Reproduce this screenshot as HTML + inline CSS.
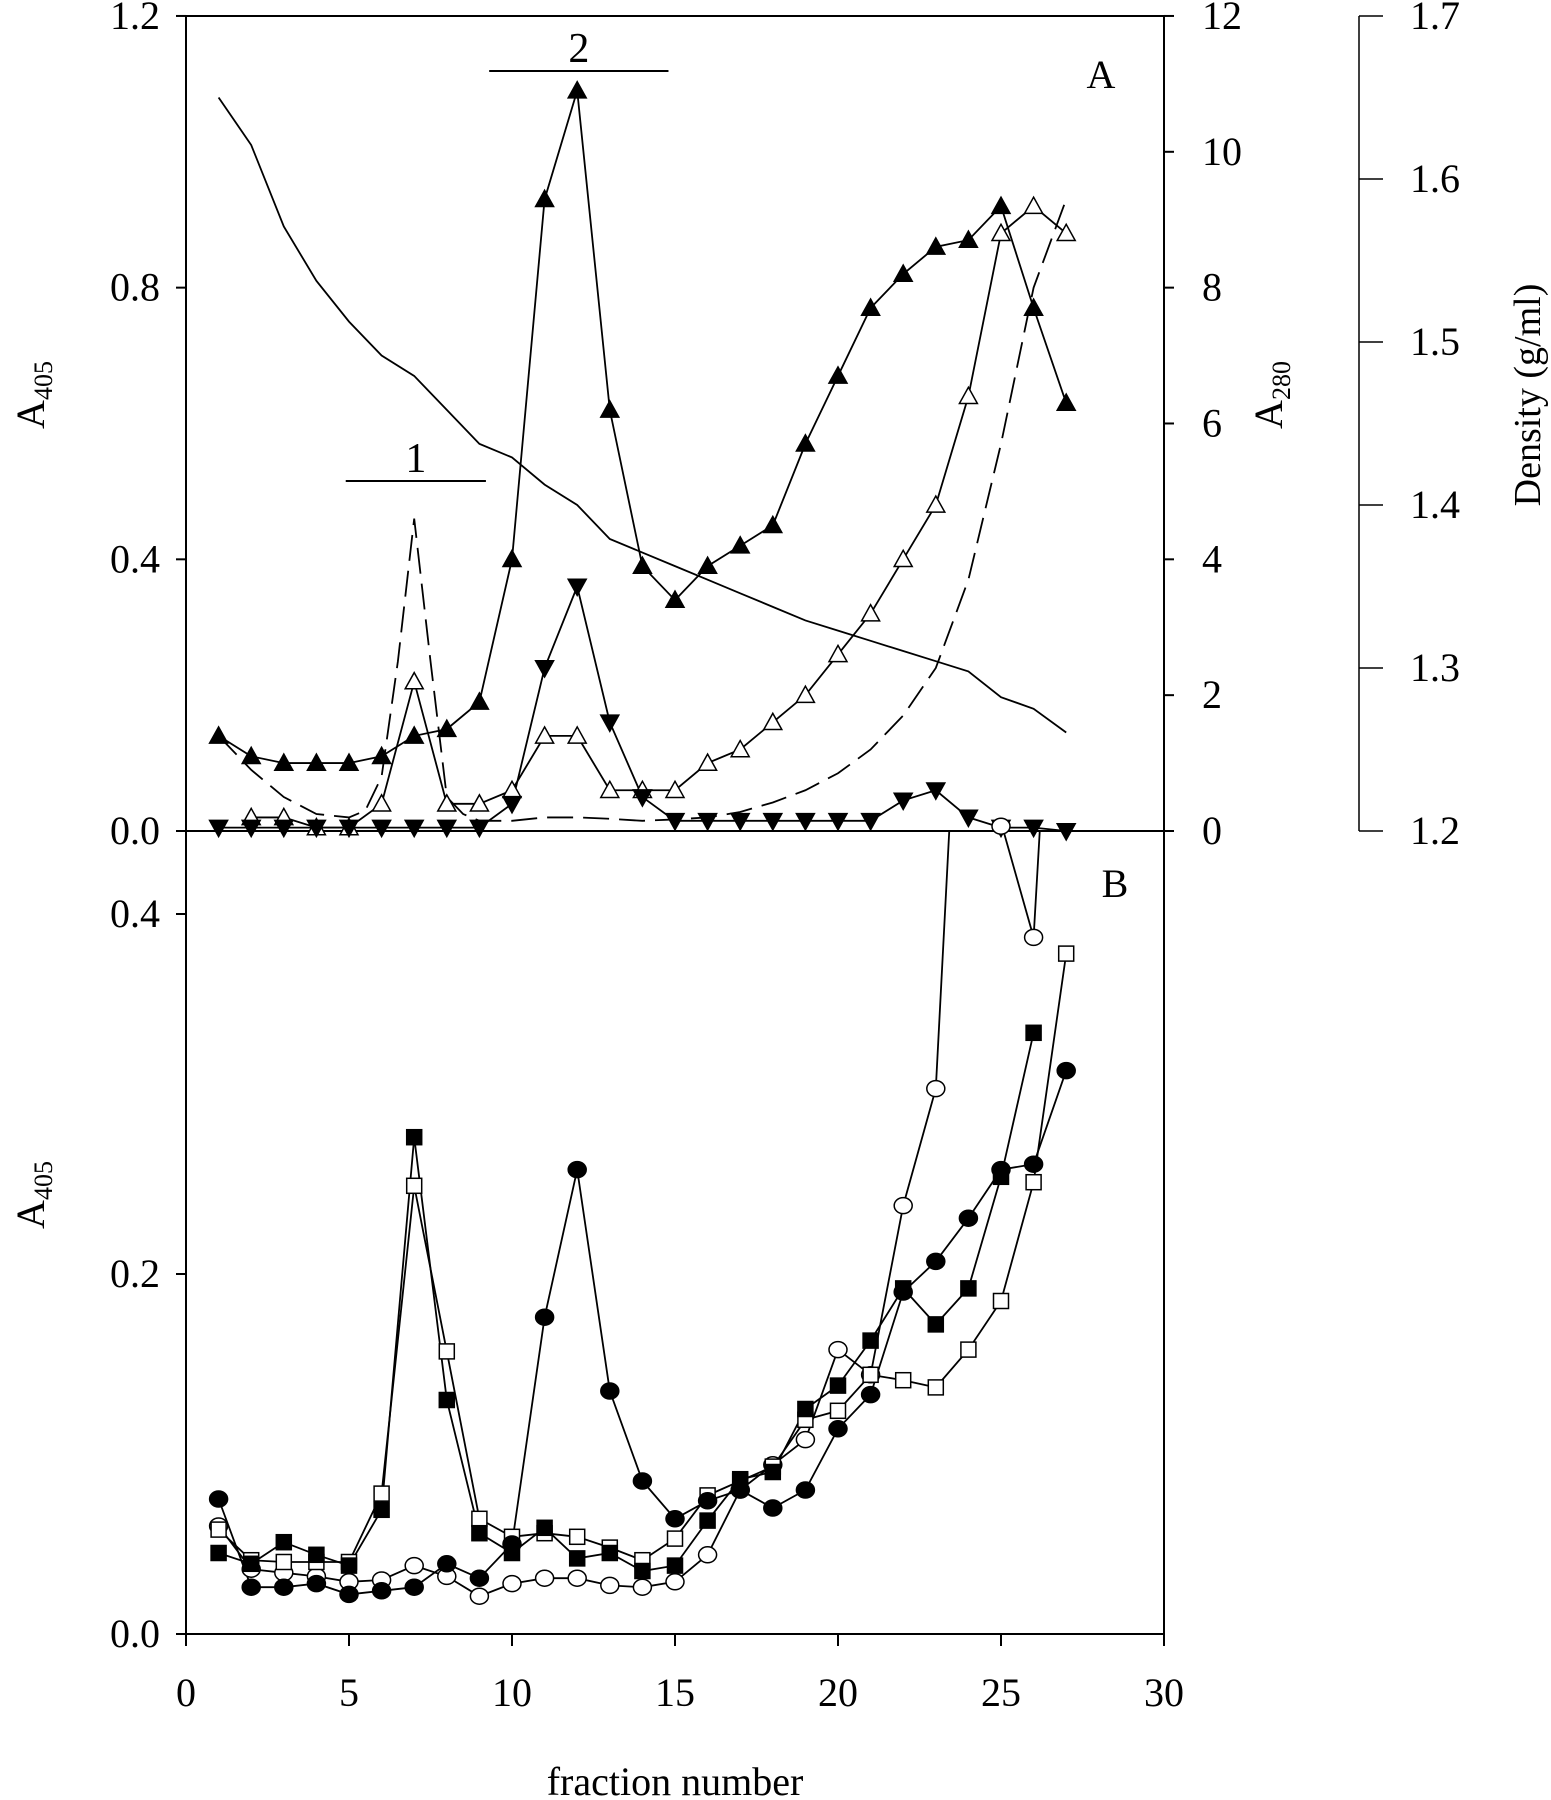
<!DOCTYPE html>
<html><head><meta charset="utf-8"><style>
html,body{margin:0;padding:0;background:#fff}
svg{display:block}
text{font-family:"Liberation Serif",serif;fill:#000}
</style></head><body>
<svg id="s" width="1551" height="1800" viewBox="0 0 1551 1800" xmlns="http://www.w3.org/2000/svg">
<defs><clipPath id="cb"><rect x="186" y="831" width="978" height="803"/></clipPath>
<clipPath id="ca"><rect x="186" y="16" width="978" height="816"/></clipPath></defs>
<g id="g" stroke="#000" fill="none" stroke-width="2"></g>
</svg>
<script>
const NS="http://www.w3.org/2000/svg";
const g=document.getElementById('g');
function el(t,a,p){const e=document.createElementNS(NS,t);for(const k in a)e.setAttribute(k,a[k]);(p||g).appendChild(e);return e;}
function txt(x,y,s,opt){const e=el('text',Object.assign({x:x,y:y,'font-size':40,stroke:'none',fill:'#000'},opt||{}));e.textContent=s;return e;}
const X=f=>186+32.6*f, YA=v=>831-679.2*v, YB=v=>1634-1800*v;
el('line',{x1:186,y1:16,x2:1164,y2:16});
el('line',{x1:186,y1:16,x2:186,y2:1634});
el('line',{x1:1164,y1:16,x2:1164,y2:1634});
el('line',{x1:186,y1:1634,x2:1164,y2:1634});
el('line',{x1:186,y1:831,x2:1164,y2:831});
[0,0.4,0.8,1.2].forEach(v=>{el('line',{x1:176,y1:YA(v),x2:186,y2:YA(v)});txt(160,YA(v)+13,v.toFixed(1),{'text-anchor':'end'});});
[0,0.2,0.4].forEach(v=>{el('line',{x1:176,y1:YB(v),x2:186,y2:YB(v)});txt(160,YB(v)+13,v.toFixed(1),{'text-anchor':'end'});});
[0,5,10,15,20,25,30].forEach(f=>{el('line',{x1:X(f),y1:1634,x2:X(f),y2:1646});txt(X(f),1706,String(f),{'text-anchor':'middle'});});
[0,2,4,6,8,10,12].forEach(v=>{const y=831-67.92*v;el('line',{x1:1164,y1:y,x2:1174,y2:y});txt(1202,y+13,String(v));});
el('line',{x1:1359,y1:16,x2:1359,y2:831,'stroke-width':1.5});
[1.2,1.3,1.4,1.5,1.6,1.7].forEach(d=>{const y=831-1630*(d-1.2);el('line',{x1:1359,y1:y,x2:1383,y2:y,'stroke-width':1.5});txt(1410,y+13,d.toFixed(1));});
function rot(x,y,parts,fs){const t=el('text',{x:0,y:0,'font-size':fs||40,stroke:'none',transform:`translate(${x},${y}) rotate(-90)`,'text-anchor':'middle'});parts.forEach(p=>{const s=el('tspan',p.a||{},t);s.textContent=p.t;});}
rot(44,395,[{t:'A'},{t:'405',a:{'font-size':26,dy:8}}]);
rot(44,1195,[{t:'A'},{t:'405',a:{'font-size':26,dy:8}}]);
rot(1282,395,[{t:'A'},{t:'280',a:{'font-size':26,dy:8}}]);
rot(1540,395,[{t:'Density (g/ml)'}],38);
txt(675,1795,'fraction number',{'text-anchor':'middle'});
txt(1101,88,'A',{'text-anchor':'middle'});
txt(1115,897,'B',{'text-anchor':'middle'});
el('line',{x1:X(4.9),y1:481,x2:X(9.2),y2:481});txt(X(7.05),472,'1',{'text-anchor':'middle','font-size':42});
el('line',{x1:X(9.3),y1:71,x2:X(14.8),y2:71});txt(X(12.05),62,'2',{'text-anchor':'middle','font-size':42});
function poly(pts,Y,opt,par){return el('polyline',Object.assign({points:pts.map(p=>X(p[0])+','+Y(p[1])).join(' '),'stroke-width':1.8},opt||{}),par);}
const r=a=>a.map((v,i)=>[i+1,v]);
const ga=el('g',{'clip-path':'url(#ca)'}), gb=el('g',{'clip-path':'url(#cb)'});
poly(r([1.08,1.01,.89,.81,.75,.70,.67,.62,.57,.55,.51,.48,.43,.41,.39,.37,.35,.33,.31,.295,.28,.265,.25,.235,.197,.18,.145]),YA,{},ga);
poly([[1,.14],[2,.09],[3,.05],[4,.025],[5,.02],[5.5,.03],[6,.08],[6.5,.25],[7,.46],[7.5,.25],[8,.05],[8.5,.025],[9,.015],[10,.015],[11,.02],[12,.02],[13,.018],[14,.015],[15,.017],[16,.02],[17,.028],[18,.042],[19,.06],[20,.085],[21,.12],[22,.17],[23,.24],[24,.37],[25,.57],[26,.8],[27,.93]],YA,{'stroke-dasharray':'26,10'},ga);
function tri(x,y,fill,down){const s=9;const pts=down?`${x-s},${y-s*0.8} ${x+s},${y-s*0.8} ${x},${y+s*1.0}`:`${x-s},${y+s*0.8} ${x+s},${y+s*0.8} ${x},${y-s*1.0}`;el('polygon',{points:pts,fill:fill,'stroke-width':1.5});}
function series(pts,Y,mk,fill,par){poly(pts,Y,{},par);pts.forEach(p=>{const x=X(p[0]),y=Y(p[1]);if(y<825&&Y===YB)return;mk(x,y,fill,par);});}
const up=(x,y,f)=>tri(x,y,f,false), dn=(x,y,f)=>tri(x,y,f,true);
const cir=(x,y,f)=>el('ellipse',{cx:x,cy:y,rx:9,ry:8,fill:f,'stroke-width':1.5});
const sq=(x,y,f)=>el('rect',{x:x-7.5,y:y-7.5,width:15,height:15,fill:f,'stroke-width':1.5});
series([[2,.02],[3,.02],[4,.005],[5,.005],[6,.04],[7,.22],[8,.04],[9,.04],[10,.06],[11,.14],[12,.14],[13,.06],[14,.06],[15,.06],[16,.10],[17,.12],[18,.16],[19,.20],[20,.26],[21,.32],[22,.40],[23,.48],[24,.64],[25,.88],[26,.92],[27,.88]],YA,up,'#fff',ga);
series(r([.005,.005,.005,.005,.005,.005,.005,.005,.005,.04,.24,.36,.16,.05,.015,.015,.015,.015,.015,.015,.015,.045,.06,.02,.005,.005,0]),YA,dn,'#000',ga);
series(r([.14,.11,.10,.10,.10,.11,.14,.15,.19,.40,.93,1.09,.62,.39,.34,.39,.42,.45,.57,.67,.77,.82,.86,.87,.92,.77,.63]),YA,up,'#000',ga);
series(r([.06,.036,.034,.032,.029,.03,.038,.032,.021,.028,.031,.031,.027,.026,.029,.044,.08,.094,.108,.158,.144,.238,.303,.65,.451,.387,.7]),YB,cir,'#fff',gb);
cir(X(25),YB(.451)+4,'#fff');
series(r([.058,.041,.04,.04,.04,.078,.249,.157,.064,.054,.056,.054,.048,.041,.053,.077,.085,.093,.119,.124,.144,.141,.137,.158,.185,.251,.378]),YB,sq,'#fff',gb);
series(r([.045,.039,.051,.044,.038,.069,.276,.13,.056,.045,.059,.042,.045,.035,.038,.063,.086,.09,.125,.138,.163,.192,.172,.192,.254,.334]),YB,sq,'#000',gb);
series(r([.075,.026,.026,.028,.022,.024,.026,.039,.031,.05,.176,.258,.135,.085,.064,.074,.08,.07,.08,.114,.133,.19,.207,.231,.258,.261,.313]),YB,cir,'#000',gb);
</script>
</body></html>
